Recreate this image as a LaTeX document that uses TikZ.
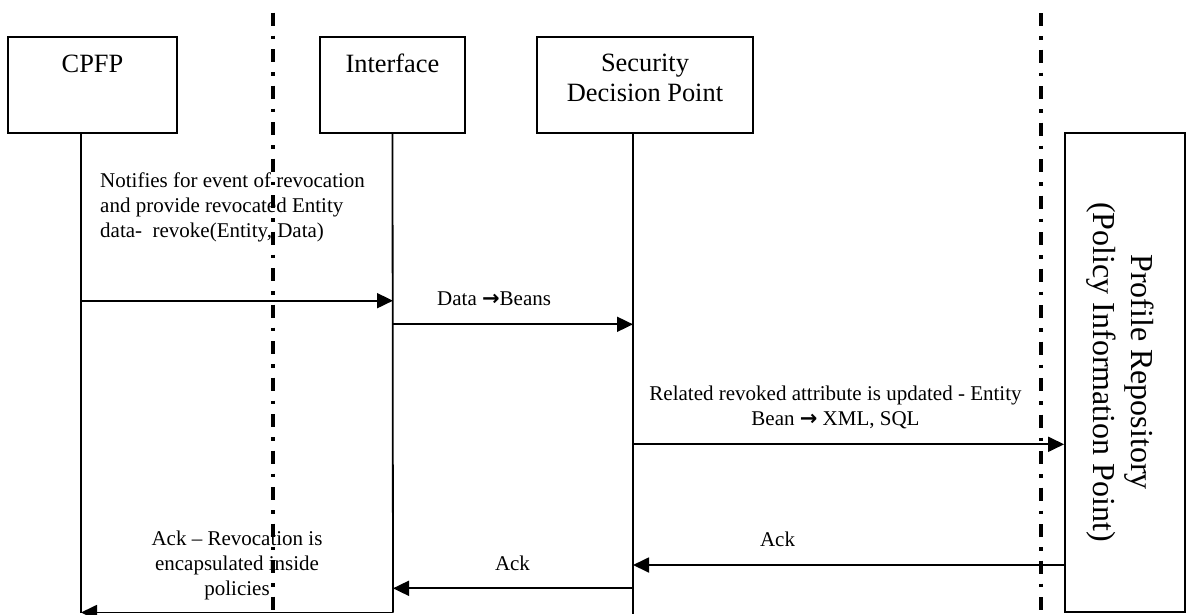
\documentclass[tikz,border=0pt]{standalone}
\usepackage{fontspec}
\setmainfont{Liberation Serif}
\newfontfamily\arrowfont{DejaVu Sans}
\newcommand{\boldarrow}{{\arrowfont\bfseries →}}
\usetikzlibrary{arrows.meta}
\begin{document}
\begin{tikzpicture}[x=1pt,y=-1pt,
  actor/.style={draw, line width=1.8pt, inner sep=0pt},
  boxtext/.style={inner sep=0pt, align=center, font=\fontsize{26.4}{30}\selectfont},
  msgtext/.style={inner sep=0pt, font=\fontsize{21}{25}\selectfont},
  lifeline/.style={line width=1.8pt},
  msg/.style={line width=1.8pt, -{Triangle[length=16pt,width=15pt]}},
  boundary/.style={line width=3.6pt, dash pattern=on 13pt off 10pt on 3.5pt off 10pt}
]
\clip (0,0) rectangle (1189,614);

% participants
\node[actor, minimum width=169pt, minimum height=96pt] (cpfp) at (92.5,84.7) {};
\node[actor, minimum width=145pt, minimum height=96pt] (iface) at (392.5,84.7) {};
\node[actor, minimum width=216pt, minimum height=96pt] (sdp) at (645,84.7) {};
\node[actor, minimum width=120pt, minimum height=479pt] (pr) at (1125,372.5) {};

\node[boxtext] (cpfpname) at (92.5,63.5) {CPFP};
\node[boxtext] (ifacename) at (392.5,63.5) {Interface};
\node[boxtext] (sdpname) at (645,78) {Security\\Decision Point};
\node[inner sep=0pt, align=center, rotate=-90, font=\fontsize{32}{38}\selectfont]
  (prname) at (1120,372) {Profile Repository\\(Policy Information Point)};

% lifelines
\coordinate (cpfpTop) at (81,132.7);
\coordinate (cpfpBot) at (81,612.5);
\coordinate (ifaceBot) at (393,612.5);
\coordinate (sdpTop) at (633,132.7);
\coordinate (sdpBot) at (633,614);
\draw[lifeline] (cpfpTop) -- (cpfpBot);
\draw[lifeline] (iface.south) -- (ifaceBot);
\draw[lifeline] (sdpTop) -- (sdpBot);

% message end points
\coordinate (m1a) at (81,300.7);   \coordinate (m1b) at (393,300.7);
\coordinate (m2a) at (393,324.3);  \coordinate (m2b) at (633,324.3);
\coordinate (m3a) at (633,444.3);  \coordinate (m3b) at (pr.west |- m3a);
\coordinate (m4b) at (633,565);    \coordinate (m4a) at (pr.west |- m4b);
\coordinate (m5a) at (633,588.3);  \coordinate (m5b) at (393,588.3);

\draw[msg] (m1a) -- (m1b);
\draw[msg] (m2a) -- (m2b);
\draw[msg] (m3a) -- (m3b);
\draw[msg] (m4a) -- (m4b);
\draw[msg] (m5a) -- (m5b);
\draw[msg] (ifaceBot) -- (cpfpBot);

% message labels
\node[msgtext, anchor=west, align=left] (m1text) at (100,207)
  {Notifies for event of revocation\\and provide revocated Entity\\data-\ \ revoke(Entity, Data)};
\node[msgtext, anchor=west] (m2text) at (437,298.5) {Data \boldarrow Beans};
\node[msgtext, align=center] (m3text) at (835.5,407)
  {Related revoked attribute is updated - Entity\\Bean \boldarrow{} XML, SQL};
\node[msgtext] (m4text) at (777.5,539) {Ack};
\node[msgtext] (m5text) at (512.5,563) {Ack};
\node[msgtext, align=center] (m6text) at (237,565)
  {Ack – Revocation is\\encapsulated inside\\policies};

% domain boundaries
\coordinate (b1top) at (272.7,12.7); \coordinate (b1bot) at (272.7,614);
\coordinate (b2top) at (1041,13);    \coordinate (b2bot) at (1041,614);
\draw[boundary] (b1top) -- (b1bot);
\draw[boundary] (b2top) -- (b2bot);
\end{tikzpicture}
\end{document}
